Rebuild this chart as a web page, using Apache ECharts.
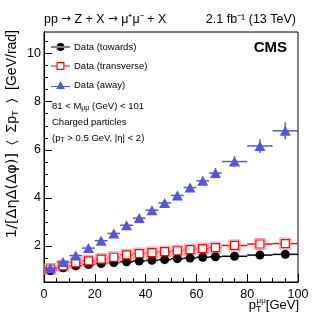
<!DOCTYPE html>
<html>
<head>
<meta charset="utf-8">
<script src="https://cdn.jsdelivr.net/npm/echarts@6/dist/echarts.min.js"></script>
<style>
  html, body { margin: 0; padding: 0; background: #fff; }
  #chart { width: 332px; height: 323px; }
</style>
</head>
<body>
<div id="chart"></div>
<script>
// bins in pT(mumu) [GeV]
var binLo = [0, 5, 10, 15, 20, 25, 30, 35, 40, 45, 50, 55, 60, 65, 70, 80, 90];
var binHi = [5, 10, 15, 20, 25, 30, 35, 40, 45, 50, 55, 60, 65, 70, 80, 90, 100];
var binMid = [2.5, 7.5, 12.5, 17.5, 22.5, 27.5, 32.5, 37.5, 42.5, 47.5, 52.5, 57.5, 62.5, 67.5, 75, 85, 95];

// 1/[deta d(dphi)] <sum pT>  [GeV/rad]
var towards = [0.98, 1.09, 1.17, 1.23, 1.27, 1.31, 1.34, 1.37, 1.40, 1.43, 1.47, 1.50, 1.53, 1.55, 1.57, 1.62, 1.65];
var towardsErr = [0.01, 0.01, 0.01, 0.01, 0.01, 0.01, 0.01, 0.01, 0.01, 0.01, 0.02, 0.02, 0.02, 0.02, 0.02, 0.03, 0.03];
var transverse = [1.04, 1.17, 1.30, 1.38, 1.45, 1.53, 1.63, 1.68, 1.72, 1.76, 1.80, 1.85, 1.89, 1.93, 2.02, 2.08, 2.10];
var transverseErr = [0.01, 0.01, 0.01, 0.01, 0.01, 0.01, 0.01, 0.01, 0.02, 0.02, 0.02, 0.02, 0.02, 0.02, 0.03, 0.03, 0.04];
var away = [1.08, 1.33, 1.60, 1.91, 2.22, 2.52, 2.86, 3.16, 3.49, 3.79, 4.10, 4.43, 4.71, 5.03, 5.51, 6.16, 6.79];
var awayErr = [0.03, 0.04, 0.05, 0.06, 0.07, 0.08, 0.09, 0.10, 0.11, 0.12, 0.13, 0.15, 0.17, 0.20, 0.22, 0.28, 0.35];

var yMajor = [2, 4, 6, 8, 10];
var yMinor = [0.5, 1, 1.5, 2.5, 3, 3.5, 4.5, 5, 5.5, 6.5, 7, 7.5, 8.5, 9, 9.5, 10.5];

var chart = echarts.init(document.getElementById("chart"));
var FONT = "Liberation Sans";
var BLUE = "#5656dc";

function rows(vals, errs) {
  var out = [];
  for (var i = 0; i < vals.length; i++) {
    out.push([binLo[i], binHi[i], vals[i], errs[i], binMid[i]]);
  }
  return out;
}
function points(vals) {
  var out = [];
  for (var i = 0; i < vals.length; i++) out.push([binMid[i], vals[i]]);
  return out;
}
// horizontal bin bar + vertical stat error
function errRender(color, w) {
  return function (params, api) {
    var y = api.value(2), e = api.value(3), m = api.value(4);
    var a = api.coord([api.value(0), y]);
    var b = api.coord([api.value(1), y]);
    var t = api.coord([m, y + e]);
    var d = api.coord([m, y - e]);
    return {
      type: "group",
      children: [
        { type: "line", shape: { x1: a[0], y1: a[1], x2: b[0], y2: b[1] }, style: { stroke: color, lineWidth: w } },
        { type: "line", shape: { x1: t[0], y1: t[1], x2: d[0], y2: d[1] }, style: { stroke: color, lineWidth: w } }
      ]
    };
  };
}

var circIcon = "path://M7 5a5 5 0 1 0 10 0a5 5 0 1 0 -10 0z M0 4.4h24v1.2h-24z";
var rectIcon = "path://M7 0h10v10h-10z M8.4 1.4v7.2h7.2v-7.2z M0 4.4h7v1.2h-7z M17 4.4h7v1.2h-7z";
var triIcon = "path://M12 0L17.5 10L6.5 10z M0 6.4h24v1.2h-24z";

var option = {
  animation: false,
  textStyle: { fontFamily: FONT },
  grid: {
    left: 44, right: 34, top: 32, bottom: 41,
    show: true, borderColor: "#000", borderWidth: 1, backgroundColor: "transparent"
  },
  legend: {
    orient: "vertical",
    left: 51, top: 41, padding: 0,
    itemWidth: 19, itemHeight: 9, itemGap: 7,
    textStyle: { fontSize: 9.5, color: "#000", lineHeight: 12, fontFamily: FONT, padding: [0, 0, 0, -1] },
    selectedMode: false,
    data: [
      { name: "Data (towards)", icon: circIcon, itemStyle: { color: "#000", borderWidth: 0, opacity: 1 } },
      { name: "Data (transverse)", icon: rectIcon, itemStyle: { color: "#ff0000", borderWidth: 0, opacity: 1 } },
      { name: "Data (away)", icon: triIcon, itemStyle: { color: BLUE, borderWidth: 0, opacity: 1 } }
    ]
  },
  xAxis: {
    type: "value", min: 0, max: 100, interval: 20,
    axisLine: { lineStyle: { color: "#000", width: 1 } },
    axisTick: { inside: true, length: 8, lineStyle: { color: "#000" } },
    minorTick: { show: true, splitNumber: 4, length: 4, lineStyle: { color: "#000" } },
    splitLine: { show: false },
    axisLabel: { fontSize: 12.5, color: "#000", margin: 6, fontFamily: FONT }
  },
  yAxis: [
    {
      type: "value", min: 0.5, max: 10.9,
      axisLine: { lineStyle: { color: "#000", width: 1 } },
      axisTick: { inside: true, length: 8, customValues: yMajor, lineStyle: { color: "#000" } },
      splitLine: { show: false },
      axisLabel: { fontSize: 12.5, color: "#000", margin: 3, customValues: yMajor, fontFamily: FONT }
    },
    {
      type: "value", min: 0.5, max: 10.9, position: "left",
      axisLine: { show: true, lineStyle: { color: "#000", width: 1 } },
      axisTick: { show: true, inside: true, length: 4, customValues: yMinor, lineStyle: { color: "#000" } },
      splitLine: { show: false },
      axisLabel: { show: false, customValues: yMinor }
    }
  ],
  series: [
    {
      name: "towardsErr", type: "custom", renderItem: errRender("#000", 1.5),
      encode: { x: [0, 1], y: 2 }, data: rows(towards, towardsErr), z: 2
    },
    {
      name: "transverseErr", type: "custom", renderItem: errRender("#ff0000", 1.5),
      encode: { x: [0, 1], y: 2 }, data: rows(transverse, transverseErr), z: 2
    },
    {
      name: "transverseSys", type: "scatter", symbol: "rect", symbolSize: 11,
      itemStyle: { color: "rgba(255,150,150,0.15)", borderColor: "#ff9a9a", borderWidth: 1, opacity: 1 },
      data: points(transverse), z: 2
    },
    {
      name: "Data (towards)", type: "scatter", symbol: "circle", symbolSize: 9,
      itemStyle: { color: "#000", opacity: 1 }, data: points(towards), z: 3
    },
    {
      name: "Data (transverse)", type: "scatter", symbol: "rect", symbolSize: 8,
      itemStyle: { color: "#fff", borderColor: "#ff0000", borderWidth: 1.2, opacity: 1 },
      data: points(transverse), z: 4
    },
    {
      name: "awayErr", type: "custom", renderItem: errRender(BLUE, 1.5),
      encode: { x: [0, 1], y: 2 }, data: rows(away, awayErr), z: 5
    },
    {
      name: "Data (away)", type: "scatter", symbol: "triangle", symbolSize: [11, 10],
      itemStyle: { color: BLUE, opacity: 1 }, data: points(away), z: 6
    }
  ],
  graphic: [
    {
      type: "text", left: 44, top: 13,
      style: {
        text: "pp {a|\u2192} Z + X {a|\u2192} \u03bc\u207a\u03bc\u207b + X", font: "12.5px " + FONT, fill: "#000",
        rich: { a: { fontFamily: "DejaVu Sans", fontSize: 11.5 } }
      }
    },
    {
      type: "text", right: 36, top: 13,
      style: { text: "2.1 fb\u207b\u00b9 (13 TeV)", font: "12.5px " + FONT, fill: "#000" }
    },
    {
      type: "text", right: 45, top: 40,
      style: { text: "CMS", font: "bold 15px " + FONT, fill: "#000" }
    },
    {
      type: "text", left: 52, top: 101,
      style: {
        text: "81 < M{s|\u03bc\u03bc} (GeV) < 101", font: "9.5px " + FONT, fill: "#000",
        rich: { s: { fontSize: 7, fontFamily: FONT, padding: [5, 0, 0, 0] } }
      }
    },
    {
      type: "text", left: 52, top: 117,
      style: { text: "Charged particles", font: "9.5px " + FONT, fill: "#000" }
    },
    {
      type: "text", left: 52, top: 133,
      style: {
        text: "(p{s|T} > 0.5 GeV, |\u03b7| < 2)", font: "9.5px " + FONT, fill: "#000",
        rich: { s: { fontSize: 7, fontFamily: FONT, padding: [5, 0, 0, 0] } }
      }
    },
    {
      type: "text", right: 33, top: 297,
      style: {
        text: "p{s|T}{u|\u03bc\u03bc}[GeV]", font: "13px " + FONT, fill: "#000",
        rich: {
          s: { fontSize: 9, fontFamily: FONT, padding: [10, 0, 0, 0] },
          u: { fontSize: 8, fontFamily: FONT, padding: [0, 0, 8, -5] }
        }
      }
    },
    {
      type: "text", x: 4, y: 30, rotation: Math.PI / 2,
      style: {
        text: "{g|1/[\u0394\u03b7\u0394(\u0394\u03c6)]}  \u2329  \u03a3p{s|T}  \u232a  [GeV/rad]", font: "14px " + FONT, fill: "#000",
        align: "right", verticalAlign: "top",
        rich: {
          g: { fontFamily: "DejaVu Sans", fontSize: 14.5 },
          s: { fontSize: 9, fontFamily: FONT, padding: [7, 0, 0, 0] }
        }
      }
    }
  ]
};
chart.setOption(option);
</script>
</body>
</html>
